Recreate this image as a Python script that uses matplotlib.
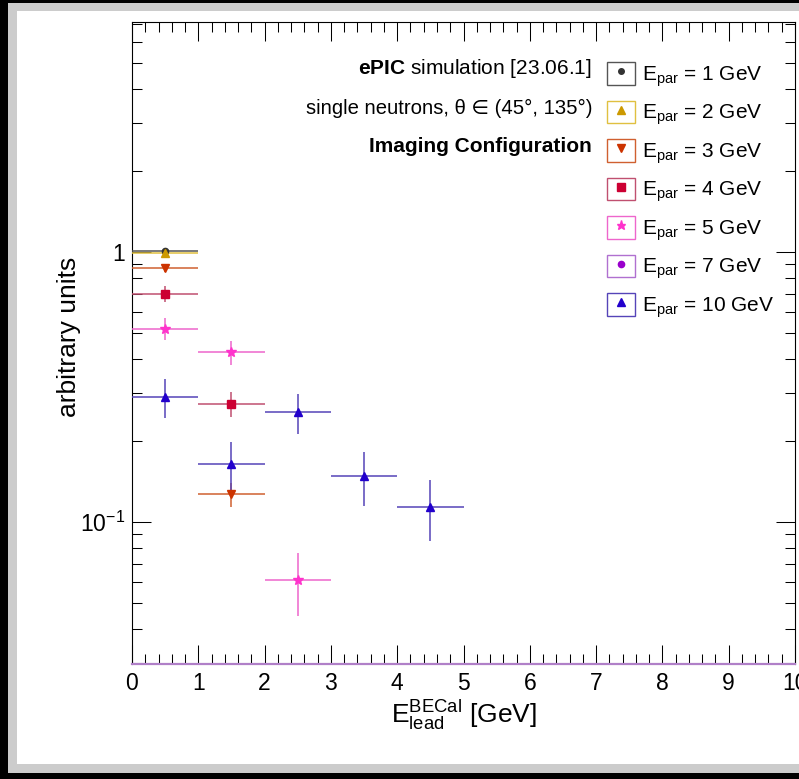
import matplotlib
matplotlib.use('Agg')
import matplotlib.pyplot as plt
from matplotlib.patches import Rectangle
from matplotlib.lines import Line2D
from matplotlib.ticker import FixedLocator, FixedFormatter, MultipleLocator, NullFormatter

plt.rcParams['font.family'] = ['Liberation Sans', 'DejaVu Sans']
plt.rcParams['mathtext.fontset'] = 'custom'
plt.rcParams['mathtext.rm'] = 'Liberation Sans'
plt.rcParams['mathtext.it'] = 'Liberation Sans:italic'
plt.rcParams['mathtext.bf'] = 'Liberation Sans:bold'

# data (bin centres, half bin width 0.5 GeV)
labels = ['1', '2', '3', '4', '5', '7', '10']
x_1 = [0.5]
y_1 = [1.01]
err_1 = [0.01]
x_2 = [0.5]
y_2 = [0.99]
err_2 = [0.012]
x_3 = [0.5, 1.5]
y_3 = [0.875, 0.127]
err_3 = [0.03, 0.013]
x_4 = [0.5, 1.5]
y_4 = [0.70, 0.274]
err_4 = [0.045, 0.03]
x_5 = [0.5, 1.5, 2.5]
y_5 = [0.52, 0.425, 0.061]
err_5 = [0.048, 0.043, 0.016]
x_7 = []
y_7 = []
err_7 = []
x_10 = [0.5, 1.5, 2.5, 3.5, 4.5]
y_10 = [0.29, 0.164, 0.255, 0.148, 0.114]
err_10 = [0.047, 0.034, 0.043, 0.033, 0.029]

xs = [x_1, x_2, x_3, x_4, x_5, x_7, x_10]
ys = [y_1, y_2, y_3, y_4, y_5, y_7, y_10]
errs = [err_1, err_2, err_3, err_4, err_5, err_7, err_10]

marker_cols = ['#333333', '#cc9900', '#cc3300', '#cc0033', '#ff33cc', '#9900cc', '#2200cc']
line_cols = ['#555555', '#e0c040', '#d06030', '#c05070', '#ee66cc', '#b070d0', '#5544b8']
markers = ['o', '^', 'v', 's', '*', 'o', '^']
msizes = [4.5, 6, 6, 6, 7, 5, 6]

fig = plt.figure(figsize=(7.99, 7.79), dpi=100)
fig.patch.set_facecolor('black')
fig.add_artist(Rectangle((8/799, 1-773/779), 1, (773-3.3)/779, transform=fig.transFigure,
                         facecolor='#cccccc', edgecolor='none', zorder=-5))
fig.add_artist(Rectangle((17/799, 1-764/779), 1, (764-11)/779, transform=fig.transFigure,
                         facecolor='white', edgecolor='none', zorder=-4))

ax = fig.add_axes([132/799, 115/779, 663/799, 642/779])
ax.set_facecolor('none')

handles = []
for i in range(len(labels)):
    if len(xs[i]) > 0:
        ax.errorbar(xs[i], ys[i], yerr=errs[i], xerr=0.5, fmt=markers[i],
                    color=line_cols[i], mfc=marker_cols[i], mec=marker_cols[i],
                    ms=msizes[i], elinewidth=1.1, capsize=0, zorder=3)
    box = Rectangle((0, 0), 1, 1, facecolor='white', edgecolor=line_cols[i], linewidth=1.0)
    mk = Line2D([], [], marker=markers[i], linestyle='none', color=marker_cols[i],
                ms=msizes[i] - 0.5)
    handles.append((box, mk))

ax.set_yscale('log')
ax.set_xlim(0, 10)
ax.set_ylim(0.0298, 7.1)

ax.xaxis.set_major_locator(MultipleLocator(1))
ax.xaxis.set_minor_locator(MultipleLocator(0.2))
ax.yaxis.set_major_locator(FixedLocator([0.1, 1]))
ax.yaxis.set_major_formatter(FixedFormatter([r'$\mathregular{10^{-1}}$', '1']))
minor_y = [0.03, 0.04, 0.05, 0.06, 0.07, 0.08, 0.09,
           0.2, 0.3, 0.4, 0.5, 0.6, 0.7, 0.8, 0.9,
           2, 3, 4, 5, 6, 7]
ax.yaxis.set_minor_locator(FixedLocator(minor_y))
ax.yaxis.set_minor_formatter(NullFormatter())

ax.tick_params(which='both', direction='in', top=True, right=True, width=0.75, color='black')
ax.tick_params(which='major', length=14)
ax.tick_params(which='minor', length=7.2)
ax.tick_params(axis='x', labelsize=16.5, pad=6)
ax.tick_params(axis='y', labelsize=16.5, pad=5)

for s in ax.spines.values():
    s.set_linewidth(0.8)
ax.spines['bottom'].set_color('#b080c8')
ax.spines['bottom'].set_linewidth(1.6)

ax.set_xlabel(r'$\mathregular{E^{BECal}_{lead}}$ [GeV]', fontsize=19, labelpad=2)
ax.set_ylabel('arbitrary units', fontsize=19)
ax.yaxis.set_label_coords(-0.077, 0.509)

leg_labels = [r'E$_{\mathregular{par}}$ = ' + l + ' GeV' for l in labels]
ax.legend(handles, leg_labels, loc='upper left', bbox_to_anchor=(607/799, 1-62/779),
          bbox_transform=fig.transFigure, frameon=False, fontsize=15,
          borderpad=0, borderaxespad=0, handlelength=1.35, handleheight=1.3,
          labelspacing=0.57, handletextpad=0.35)

fig.text(592/799, 1-68/779, r'$\mathbf{ePIC}$ simulation [23.06.1]', ha='right', va='center', fontsize=15)
fig.text(592/799, 1-108/779, 'single neutrons, θ ∈ (45°, 135°)', ha='right', va='center', fontsize=14.6)
fig.text(592/799, 1-146/779, 'Imaging Configuration', ha='right', va='center', fontsize=15, fontweight='bold')

fig.savefig('out.png', dpi=100, facecolor=fig.get_facecolor())
